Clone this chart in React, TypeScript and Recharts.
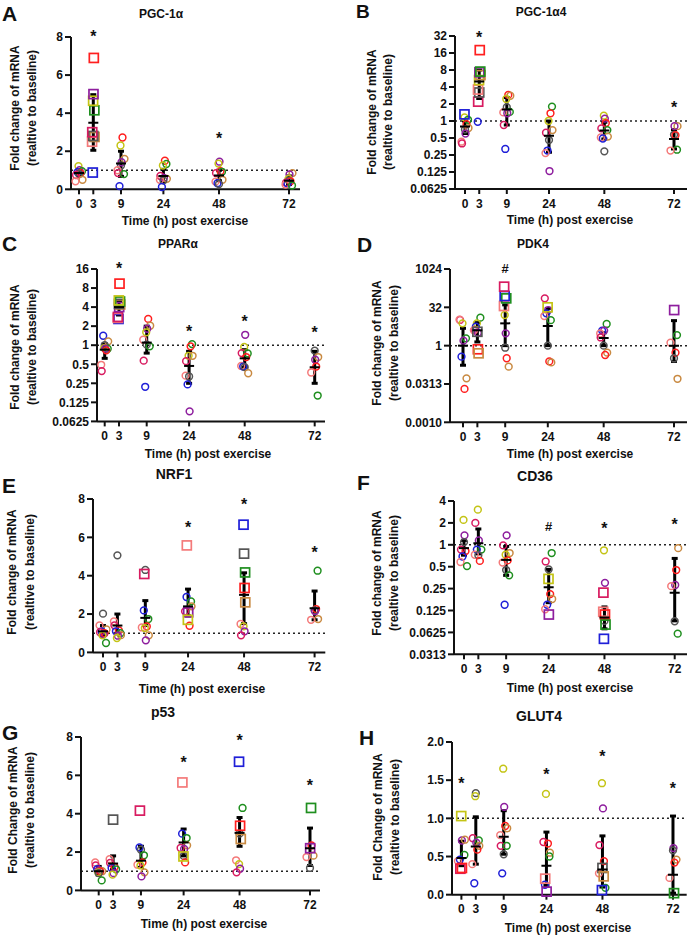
import React from 'react';
import { ScatterChart, Scatter, XAxis, YAxis, ErrorBar, ReferenceLine, ReferenceDot } from 'recharts';

type Pt = [number, string, number, string]; // time, subject, value, marker (o circle / s square)
type Stat = [number, number, number, number]; // time, mean, low, high
type Mark = [number, number, string]; // time, y, symbol

const timePoints = [0, 3, 9, 24, 48, 72];
const timeLabels = ['0', '3', '9', '24', '48', '72'];

const panelLetters = ['A', 'B', 'C', 'D', 'E', 'F', 'G', 'H'];
const panelTitles = ['PGC-1\u03b1', 'PGC-1\u03b14', 'PPAR\u03b1', 'PDK4', 'NRF1', 'CD36', 'p53', 'GLUT4'];
const yLabelLine1 = ['Fold change of mRNA', 'Fold change of mRNA', 'Fold change of mRNA', 'Fold change of mRNA', 'Fold change of mRNA', 'Fold change of mRNA', 'Fold Change of mRNA', 'Fold Change of mRNA'];
const yLabelLine2 = '(realtive to baseline)';
const xLabel = 'Time (h) post exercise';

const linTicks8 = [0, 2, 4, 6, 8];
const linTicks8Labels = ['0', '2', '4', '6', '8'];
const logTicksB = [0.0625, 0.125, 0.25, 0.5, 1, 2, 4, 8, 16, 32];
const logTicksBLabels = ['0.0625', '0.125', '0.25', '0.5', '1', '2', '4', '8', '16', '32'];
const logTicksC = [0.0625, 0.125, 0.25, 0.5, 1, 2, 4, 8, 16];
const logTicksCLabels = ['0.0625', '0.125', '0.25', '0.5', '1', '2', '4', '8', '16'];
const logTicksD = [0.0009765625, 0.03125, 1, 32, 1024];
const logTicksDLabels = ['0.0010', '0.0313', '1', '32', '1024'];
const logTicksF = [0.03125, 0.0625, 0.125, 0.25, 0.5, 1, 2, 4];
const logTicksFLabels = ['0.0313', '0.0625', '0.125', '0.25', '0.5', '1', '2', '4'];
const linTicksH = [0, 0.5, 1, 1.5, 2];
const linTicksHLabels = ['0.0', '0.5', '1.0', '1.5', '2.0'];

const pgc1aPoints: Pt[] = [
  [0,'Y',1.22,'o'],[0,'P',1.0,'o'],[0,'G',0.95,'o'],[0,'B',0.9,'o'],[0,'R',0.85,'o'],[0,'K',0.8,'o'],[0,'M',0.75,'o'],[0,'T',0.5,'o'],[0,'S',0.42,'o'],
  [3,'B',0.88,'s'],[3,'S',2.5,'s'],[3,'T',2.75,'s'],[3,'K',2.8,'s'],[3,'M',3.0,'s'],[3,'G',4.15,'s'],[3,'Y',4.65,'s'],[3,'P',5.0,'s'],[3,'R',6.9,'s'],
  [9,'R',2.72,'o'],[9,'Y',2.3,'o'],[9,'T',1.6,'o'],[9,'P',1.42,'o'],[9,'K',1.25,'o'],[9,'S',1.0,'o'],[9,'M',0.85,'o'],[9,'G',0.8,'o'],[9,'B',0.17,'o'],
  [24,'R',1.5,'o'],[24,'G',1.33,'o'],[24,'Y',1.25,'o'],[24,'M',0.7,'o'],[24,'P',0.6,'o'],[24,'T',0.55,'o'],[24,'S',0.5,'o'],[24,'K',0.47,'o'],[24,'B',0.12,'o'],
  [48,'P',1.45,'o'],[48,'Y',1.35,'o'],[48,'R',0.95,'o'],[48,'G',0.92,'o'],[48,'M',0.85,'o'],[48,'T',0.5,'o'],[48,'S',0.4,'o'],[48,'B',0.32,'o'],[48,'K',0.28,'o'],
  [72,'T',0.85,'o'],[72,'P',0.78,'o'],[72,'Y',0.55,'o'],[72,'K',0.45,'o'],[72,'R',0.42,'o'],[72,'M',0.35,'o'],[72,'B',0.3,'o'],[72,'S',0.25,'o'],[72,'G',0.2,'o'],
];
const pgc1aStats: Stat[] = [[0,0.85,0.72,1.0],[3,3.5,2.05,4.97],[9,1.35,0.68,2.0],[24,0.7,0.4,1.05],[48,0.73,0.45,1.0],[72,0.45,0.25,0.7]];
const pgc1aMarks: Mark[] = [[3,8.2,'*'],[48,2.85,'*']];

const pgc1a4Points: Pt[] = [
  [0,'Y',1.16,'o'],[0,'G',1.05,'o'],[0,'R',0.88,'o'],[0,'T',0.75,'o'],[0,'K',0.71,'o'],[0,'P',0.6,'o'],[0,'S',0.43,'o'],[0,'M',0.4,'o'],[0,'B',1.31,'s'],
  [3,'B',0.97,'o'],[3,'M',2.2,'s'],[3,'K',3.2,'s'],[3,'S',3.6,'s'],[3,'Y',5.3,'s'],[3,'T',6.5,'s'],[3,'P',7.3,'s'],[3,'G',7.5,'s'],[3,'R',18,'s'],
  [9,'R',2.9,'o'],[9,'T',2.8,'o'],[9,'Y',2.45,'o'],[9,'K',1.75,'o'],[9,'G',1.45,'o'],[9,'S',1.42,'o'],[9,'P',1.37,'o'],[9,'M',0.85,'o'],[9,'B',0.32,'o'],
  [24,'G',1.8,'o'],[24,'R',1.37,'o'],[24,'Y',1.0,'o'],[24,'T',0.69,'o'],[24,'M',0.62,'o'],[24,'K',0.46,'o'],[24,'B',0.3,'o'],[24,'S',0.27,'o'],[24,'P',0.13,'o'],
  [48,'Y',1.24,'o'],[48,'P',1.1,'o'],[48,'R',0.92,'o'],[48,'M',0.74,'o'],[48,'G',0.69,'o'],[48,'T',0.53,'o'],[48,'S',0.51,'o'],[48,'B',0.49,'o'],[48,'K',0.29,'o'],
  [72,'T',0.81,'o'],[72,'P',0.81,'o'],[72,'K',0.57,'o'],[72,'R',0.56,'o'],[72,'G',0.31,'o'],[72,'S',0.3,'o'],
];
const pgc1a4Stats: Stat[] = [[0,0.8,0.6,1.0],[3,5.0,2.5,8.0],[9,1.6,0.85,2.6],[24,0.55,0.28,1.0],[48,0.68,0.48,0.95],[72,0.48,0.32,0.7]];
const pgc1a4Marks: Mark[] = [[3,35,'*'],[72,2.0,'*']];

const pparaPoints: Pt[] = [
  [0,'B',1.41,'o'],[0,'T',1.15,'o'],[0,'K',1.0,'o'],[0,'Y',0.9,'o'],[0,'G',0.88,'o'],[0,'P',0.88,'o'],[0,'R',0.83,'o'],[0,'S',0.49,'o'],[0,'M',0.39,'o'],
  [3,'B',2.6,'s'],[3,'S',2.7,'s'],[3,'M',2.8,'s'],[3,'P',4.0,'s'],[3,'T',4.4,'s'],[3,'K',4.5,'s'],[3,'G',4.9,'s'],[3,'Y',5.1,'s'],[3,'R',9.4,'s'],
  [9,'R',2.6,'o'],[9,'T',2.03,'o'],[9,'P',1.82,'o'],[9,'Y',1.6,'o'],[9,'S',1.22,'o'],[9,'K',1.02,'o'],[9,'G',0.96,'o'],[9,'M',0.57,'o'],[9,'B',0.22,'o'],
  [24,'G',1.04,'o'],[24,'R',0.96,'o'],[24,'Y',0.68,'o'],[24,'T',0.68,'o'],[24,'M',0.56,'o'],[24,'S',0.33,'o'],[24,'K',0.32,'o'],[24,'B',0.24,'o'],[24,'P',0.09,'o'],
  [48,'P',1.46,'o'],[48,'Y',0.94,'o'],[48,'M',0.75,'o'],[48,'G',0.74,'o'],[48,'R',0.65,'o'],[48,'S',0.47,'o'],[48,'B',0.46,'o'],[48,'K',0.45,'o'],[48,'T',0.36,'o'],
  [72,'K',0.82,'o'],[72,'T',0.65,'o'],[72,'P',0.59,'o'],[72,'R',0.46,'o'],[72,'S',0.37,'o'],[72,'G',0.16,'o'],
];
const pparaStats: Stat[] = [[0,0.85,0.62,1.05],[3,4.0,3.0,5.0],[9,1.1,0.75,2.0],[24,0.47,0.25,0.8],[48,0.62,0.45,0.85],[72,0.45,0.25,0.8]];
const pparaMarks: Mark[] = [[3,18.5,'*'],[24,1.87,'*'],[48,2.7,'*'],[72,1.8,'*']];

const pdk4Points: Pt[] = [
  [0,'M',10.2,'o'],[0,'S',10.5,'o'],[0,'Y',7.5,'o'],[0,'G',1.94,'o'],[0,'P',1.57,'o'],[0,'B',0.37,'o'],[0,'T',0.052,'o'],[0,'R',0.02,'o'],
  [3,'G',12.6,'o'],[3,'Y',7.5,'o'],[3,'B',5.6,'o'],[3,'M',4.1,'o'],[3,'S',4.0,'o'],[3,'P',3.2,'o'],[3,'K',3.5,'s'],[3,'R',0.72,'s'],[3,'T',0.5,'s'],
  [9,'Y',16,'o'],[9,'P',3.05,'o'],[9,'K',0.83,'o'],[9,'R',0.32,'o'],[9,'T',0.15,'o'],[9,'S',36,'s'],[9,'G',72,'s'],[9,'B',89,'s'],[9,'M',207,'s'],
  [24,'M',72,'o'],[24,'P',25,'o'],[24,'B',18.6,'o'],[24,'S',14.6,'o'],[24,'G',10,'o'],[24,'K',1.0,'o'],[24,'R',0.24,'o'],[24,'T',0.22,'o'],[24,'Y',32,'s'],
  [48,'G',7.1,'o'],[48,'B',3.9,'o'],[48,'P',3.9,'o'],[48,'S',3.0,'o'],[48,'M',2.1,'o'],[48,'K',1.0,'o'],[48,'T',0.53,'o'],[48,'R',0.43,'o'],
  [72,'G',2.6,'o'],[72,'S',1.3,'o'],[72,'R',0.53,'o'],[72,'K',0.32,'o'],[72,'T',0.05,'o'],[72,'P',25,'s'],
];
const pdk4Stats: Stat[] = [[0,1.0,0.17,4.8],[3,4.0,1.4,8.0],[9,7.5,1.0,40],[24,5.9,1.0,29],[48,2.0,1.0,3.2],[72,1.0,0.24,9.6]];
const pdk4Marks: Mark[] = [[9,1024,'#']];

const nrf1Points: Pt[] = [
  [0,'K',2.02,'o'],[0,'S',1.41,'o'],[0,'T',1.2,'o'],[0,'B',1.1,'o'],[0,'M',1.05,'o'],[0,'R',1.0,'o'],[0,'P',0.95,'o'],[0,'Y',0.89,'o'],[0,'G',0.49,'o'],
  [3,'K',5.06,'o'],[3,'S',1.62,'o'],[3,'M',1.41,'o'],[3,'R',1.15,'o'],[3,'B',1.1,'o'],[3,'G',1.0,'o'],[3,'T',0.9,'o'],[3,'P',0.87,'o'],[3,'Y',0.75,'o'],
  [9,'K',4.3,'o'],[9,'B',2.19,'o'],[9,'G',1.74,'o'],[9,'R',1.35,'o'],[9,'S',1.3,'o'],[9,'Y',1.27,'o'],[9,'T',0.89,'o'],[9,'P',0.63,'o'],[9,'M',4.09,'s'],
  [24,'B',2.89,'o'],[24,'G',2.66,'o'],[24,'T',2.4,'o'],[24,'M',2.14,'o'],[24,'R',1.39,'o'],[24,'S',5.58,'s'],[24,'P',2.09,'s'],[24,'Y',1.7,'s'],
  [48,'S',1.48,'o'],[48,'Y',1.36,'o'],[48,'P',1.1,'o'],[48,'M',0.89,'o'],[48,'B',6.66,'s'],[48,'K',5.15,'s'],[48,'G',4.17,'s'],[48,'R',3.36,'s'],[48,'T',2.61,'s'],
  [72,'G',4.26,'o'],[72,'R',2.26,'o'],[72,'K',2.19,'o'],[72,'P',2.14,'o'],[72,'T',1.74,'o'],[72,'S',1.7,'o'],
];
const nrf1Stats: Stat[] = [[0,1.1,0.85,1.4],[3,1.4,1.0,2.0],[9,1.8,1.4,2.7],[24,2.4,1.9,3.3],[48,3.0,1.5,4.15],[72,2.3,1.7,3.2]];
const nrf1Marks: Mark[] = [[24,6.7,'*'],[48,7.88,'*'],[72,5.4,'*']];

const cd36Points: Pt[] = [
  [0,'Y',2.2,'o'],[0,'P',1.35,'o'],[0,'K',1.09,'o'],[0,'M',0.86,'o'],[0,'R',0.82,'o'],[0,'B',0.69,'o'],[0,'S',0.58,'o'],[0,'G',0.51,'o'],
  [3,'Y',3.04,'o'],[3,'M',2.0,'o'],[3,'P',1.15,'o'],[3,'G',0.86,'o'],[3,'B',0.86,'o'],[3,'S',0.73,'o'],[3,'K',0.72,'o'],[3,'R',0.6,'o'],
  [9,'P',1.35,'o'],[9,'M',0.98,'o'],[9,'T',0.77,'o'],[9,'Y',0.73,'o'],[9,'R',0.61,'o'],[9,'S',0.57,'o'],[9,'K',0.45,'o'],[9,'G',0.38,'o'],[9,'B',0.15,'o'],
  [24,'G',0.77,'o'],[24,'M',0.59,'o'],[24,'K',0.46,'o'],[24,'R',0.21,'o'],[24,'T',0.18,'o'],[24,'B',0.15,'o'],[24,'S',0.13,'o'],[24,'Y',0.34,'s'],[24,'P',0.11,'s'],
  [48,'Y',0.84,'o'],[48,'P',0.3,'o'],[48,'K',0.09,'o'],[48,'M',0.22,'s'],[48,'S',0.12,'s'],[48,'R',0.11,'s'],[48,'G',0.08,'s'],[48,'B',0.051,'s'],
  [72,'T',0.9,'o'],[72,'R',0.45,'o'],[72,'P',0.28,'o'],[72,'S',0.27,'o'],[72,'K',0.089,'o'],[72,'G',0.06,'o'],
];
const cd36Stats: Stat[] = [[0,0.9,0.72,1.15],[3,1.05,0.75,1.65],[9,0.62,0.38,0.95],[24,0.26,0.16,0.46],[48,0.1,0.07,0.14],[72,0.22,0.09,0.65]];
const cd36Marks: Mark[] = [[24,1.76,'#'],[48,1.9,'*'],[72,2.1,'*']];

const p53Points: Pt[] = [
  [0,'S',1.46,'o'],[0,'M',1.3,'o'],[0,'B',1.11,'o'],[0,'P',1.05,'o'],[0,'T',1.0,'o'],[0,'R',0.99,'o'],[0,'Y',0.94,'o'],[0,'K',0.9,'o'],[0,'G',0.52,'o'],
  [3,'S',1.63,'o'],[3,'M',1.43,'o'],[3,'R',1.22,'o'],[3,'B',1.17,'o'],[3,'G',1.1,'o'],[3,'P',0.9,'o'],[3,'Y',0.82,'o'],[3,'K',3.69,'s'],
  [9,'B',2.24,'o'],[9,'K',2.12,'o'],[9,'G',1.83,'o'],[9,'R',1.46,'o'],[9,'S',1.34,'o'],[9,'Y',1.3,'o'],[9,'T',0.94,'o'],[9,'P',0.73,'o'],[9,'M',4.16,'s'],
  [24,'B',2.96,'o'],[24,'G',2.73,'o'],[24,'T',2.35,'o'],[24,'M',2.21,'o'],[24,'P',2.16,'o'],[24,'K',1.8,'o'],[24,'R',1.46,'o'],[24,'S',5.63,'s'],[24,'Y',1.77,'s'],
  [48,'G',4.3,'o'],[48,'K',2.96,'o'],[48,'S',1.57,'o'],[48,'Y',1.37,'o'],[48,'P',1.13,'o'],[48,'M',0.94,'o'],[48,'B',6.71,'s'],[48,'R',3.37,'s'],[48,'T',2.68,'s'],
  [72,'R',2.35,'o'],[72,'T',1.81,'o'],[72,'S',1.74,'o'],[72,'K',1.17,'o'],[72,'G',4.3,'s'],[72,'P',2.2,'s'],
];
const p53Stats: Stat[] = [[0,1.0,0.8,1.25],[3,1.4,1.1,1.8],[9,1.55,1.2,2.3],[24,2.5,1.8,3.2],[48,3.0,2.3,3.8],[72,2.2,1.3,3.25]];
const p53Marks: Mark[] = [[24,6.85,'*'],[48,8.0,'*'],[72,5.63,'*']];

const glut4Points: Pt[] = [
  [0,'P',0.71,'o'],[0,'T',0.72,'o'],[0,'G',0.52,'o'],[0,'B',0.46,'o'],[0,'S',0.44,'o'],[0,'Y',1.03,'s'],[0,'M',0.34,'s'],[0,'R',0.35,'s'],
  [3,'K',1.33,'o'],[3,'Y',1.29,'o'],[3,'M',0.74,'o'],[3,'G',0.71,'o'],[3,'P',0.68,'o'],[3,'T',0.64,'o'],[3,'R',0.59,'o'],[3,'S',0.4,'o'],[3,'B',0.15,'o'],
  [9,'Y',1.65,'o'],[9,'P',1.15,'o'],[9,'R',0.9,'o'],[9,'T',0.87,'o'],[9,'S',0.78,'o'],[9,'M',0.64,'o'],[9,'G',0.64,'o'],[9,'K',0.53,'o'],[9,'B',0.28,'o'],
  [24,'Y',1.32,'o'],[24,'M',0.69,'o'],[24,'R',0.67,'o'],[24,'T',0.55,'o'],[24,'G',0.5,'o'],[24,'B',0.13,'o'],[24,'S',0.21,'s'],[24,'P',0.04,'s'],
  [48,'Y',1.46,'o'],[48,'P',1.13,'o'],[48,'M',0.65,'o'],[48,'R',0.44,'o'],[48,'S',0.28,'o'],[48,'G',0.09,'o'],[48,'K',0.35,'s'],[48,'T',0.24,'s'],[48,'B',0.06,'s'],
  [72,'P',0.61,'o'],[72,'K',0.58,'o'],[72,'T',0.46,'o'],[72,'R',0.42,'o'],[72,'S',0.22,'o'],[72,'G',0.02,'s'],
];
const glut4Stats: Stat[] = [[0,0.48,0.38,0.7],[3,0.63,0.4,1.02],[9,0.76,0.53,1.1],[24,0.38,0.12,0.82],[48,0.33,0.1,0.77],[72,0.26,0.02,1.03]];
const glut4Marks: Mark[] = [[0,1.5,'*'],[24,1.62,'*'],[48,1.86,'*'],[72,1.44,'*']];

// ---------- styling / layout (not data) ----------
const subjectColors: Record<string, string> = {
  R: '#ff1f1f', B: '#1f1fd8', G: '#1f8f1f', Y: '#c4c416', P: '#8e1e9e',
  M: '#d81b60', S: '#f47a7a', T: '#c98a42', K: '#555555',
};
const subjectJitter: Record<string, number> = { R: 1.5, B: -1.5, G: 3, Y: -0.5, P: 0.5, M: -3, S: -3.5, T: 3.5, K: 0 };
const slotPos = [0, 14.3, 42, 84.4, 140, 210];
const FONT = "'Liberation Sans', Arial, Helvetica, sans-serif";

type Layout = {
  left: number; top: number; right: number; bottom: number; x0: number; x72: number;
  lx: number; ly: number; tx: number; ty: number; ts: number;
  y1: number; y2: number; yc: number; xlx: number; xly: number;
};

const layouts: Layout[] = [
  { left: 71, top: 36.7, right: 300, bottom: 189, x0: 79, x72: 289, lx: 2, ly: 21, tx: 161, ty: 18, ts: 12, y1: 15, y2: 32, yc: 108, xlx: 185, xly: 225 },
  { left: 455, top: 36, right: 687, bottom: 189, x0: 465, x72: 674, lx: 356, ly: 18, tx: 541, ty: 16, ts: 12, y1: 372, y2: 388, yc: 112, xlx: 570, xly: 224 },
  { left: 97, top: 269.3, right: 325, bottom: 421.7, x0: 104.7, x72: 314.7, lx: 2, ly: 251, tx: 178, ty: 248, ts: 12, y1: 15, y2: 32, yc: 347, xlx: 208, xly: 458 },
  { left: 450, top: 269, right: 687, bottom: 422.3, x0: 463, x72: 674, lx: 357, ly: 252, tx: 533, ty: 248, ts: 12, y1: 377, y2: 394, yc: 343, xlx: 570, xly: 458 },
  { left: 92.7, top: 499.3, right: 325, bottom: 652.7, x0: 102.7, x72: 314.3, lx: 2, ly: 493, tx: 174, ty: 479, ts: 14, y1: 12, y2: 30, yc: 572, xlx: 202, xly: 693 },
  { left: 454, top: 500.7, right: 687, bottom: 654, x0: 464, x72: 674.7, lx: 357, ly: 490, tx: 535, ty: 481, ts: 14, y1: 377, y2: 394, yc: 573, xlx: 570, xly: 692 },
  { left: 81, top: 737.3, right: 320, bottom: 890.7, x0: 98.7, x72: 310, lx: 2, ly: 740, tx: 163, ty: 717, ts: 14, y1: 13, y2: 30, yc: 810, xlx: 204, xly: 928 },
  { left: 452.3, top: 742.3, right: 687, bottom: 895, x0: 461.7, x72: 673.3, lx: 359, ly: 745, tx: 539, ty: 721, ts: 14, y1: 378, y2: 395, yc: 817, xlx: 568, xly: 932 },
];

type PanelData = { points: Pt[]; stats: Stat[]; marks: Mark[]; log: boolean; ticks: number[]; tickLabels: string[] };
const panels: PanelData[] = [
  { points: pgc1aPoints, stats: pgc1aStats, marks: pgc1aMarks, log: false, ticks: linTicks8, tickLabels: linTicks8Labels },
  { points: pgc1a4Points, stats: pgc1a4Stats, marks: pgc1a4Marks, log: true, ticks: logTicksB, tickLabels: logTicksBLabels },
  { points: pparaPoints, stats: pparaStats, marks: pparaMarks, log: true, ticks: logTicksC, tickLabels: logTicksCLabels },
  { points: pdk4Points, stats: pdk4Stats, marks: pdk4Marks, log: true, ticks: logTicksD, tickLabels: logTicksDLabels },
  { points: nrf1Points, stats: nrf1Stats, marks: nrf1Marks, log: false, ticks: linTicks8, tickLabels: linTicks8Labels },
  { points: cd36Points, stats: cd36Stats, marks: cd36Marks, log: true, ticks: logTicksF, tickLabels: logTicksFLabels },
  { points: p53Points, stats: p53Stats, marks: p53Marks, log: false, ticks: linTicks8, tickLabels: linTicks8Labels },
  { points: glut4Points, stats: glut4Stats, marks: glut4Marks, log: false, ticks: linTicksH, tickLabels: linTicksHLabels },
];

const PAD_L = 70;
const PAD_T = 30;
const PAD_B = 30;

const pointShape = (p: any) => {
  const { cx, cy, payload } = p;
  if (cx == null || cy == null) return <g />;
  const c = subjectColors[payload.subject];
  if (payload.marker === 's') {
    return <rect x={cx - 4.5} y={cy - 4.5} width={9} height={9} fill="none" stroke={c} strokeWidth={1.7} />;
  }
  return <circle cx={cx} cy={cy} r={3.4} fill="none" stroke={c} strokeWidth={1.5} />;
};

const meanShape = (p: any) => {
  const { cx, cy } = p;
  if (cx == null || cy == null) return <g />;
  return <line x1={cx - 5} x2={cx + 5} y1={cy} y2={cy} stroke="#000" strokeWidth={2} />;
};

function Panel({ idx }: { idx: number }) {
  const L = layouts[idx];
  const P = panels[idx];
  const k = 210 / (L.x72 - L.x0);
  const xDomain = [(L.left - L.x0) * k, (L.right - L.x0) * k];
  const plotW = L.right - L.left;
  const plotH = L.bottom - L.top;
  const width = plotW + PAD_L + 1;
  const height = plotH + PAD_T + PAD_B;

  const pts = P.points.map((d) => {
    const ti = timePoints.indexOf(d[0]);
    const j = subjectJitter[d[1]] * (d[3] === 's' ? 0.35 : 1);
    return { x: slotPos[ti] + j * k, y: d[2], subject: d[1], marker: d[3] };
  });
  const st = P.stats.map((s) => {
    const ti = timePoints.indexOf(s[0]);
    return { x: slotPos[ti], y: s[1], err: [s[1] - s[2], s[3] - s[1]] };
  });
  const yDomain = [P.ticks[0], P.ticks[P.ticks.length - 1]];
  const tickFmtY = (v: number) => {
    const i = P.ticks.findIndex((t) => Math.abs(t - v) / t < 1e-6 || t === v);
    return i >= 0 ? P.tickLabels[i] : String(v);
  };
  const tickFmtX = (v: number) => {
    const i = slotPos.findIndex((s) => Math.abs(s - v) < 1e-6);
    return i >= 0 ? timeLabels[i] : '';
  };
  const tickStyle = { fontSize: 12, fontWeight: 700, fill: '#111', fontFamily: FONT };
  const axisStyle = { stroke: '#111', strokeWidth: 2 };

  return (
    <div style={{ position: 'absolute', left: L.left - PAD_L, top: L.top - PAD_T, width, height }}>
      <ScatterChart width={width} height={height} margin={{ top: PAD_T, right: 1, left: 10, bottom: 0 }}>
        <XAxis
          type="number"
          dataKey="x"
          domain={xDomain}
          ticks={slotPos}
          interval={0}
          tickFormatter={tickFmtX}
          tick={tickStyle}
          axisLine={axisStyle}
          tickLine={axisStyle}
          tickSize={5}
          tickMargin={5}
          height={30}
          allowDataOverflow
        />
        <YAxis
          type="number"
          dataKey="y"
          scale={P.log ? 'log' : 'linear'}
          domain={yDomain}
          ticks={P.ticks}
          interval={0}
          tickFormatter={tickFmtY}
          tick={tickStyle}
          axisLine={axisStyle}
          tickLine={axisStyle}
          tickSize={6}
          tickMargin={2}
          width={60}
        />
        <ReferenceLine y={1} stroke="#222" strokeWidth={1.5} strokeDasharray="2 3" />
        <Scatter data={pts} shape={pointShape} isAnimationActive={false} />
        <Scatter data={st} shape={meanShape} isAnimationActive={false}>
          <ErrorBar dataKey="err" direction="y" width={3} stroke="#000" strokeWidth={3} />
        </Scatter>
        {P.marks.map((m, i) => {
          const ti = timePoints.indexOf(m[0]);
          return (
            <ReferenceDot
              key={i}
              x={slotPos[ti]}
              y={m[1]}
              ifOverflow="visible"
              shape={(p: any) => (
                <text
                  x={p.cx}
                  y={m[2] === '*' ? p.cy + 9 : p.cy + 4.5}
                  textAnchor="middle"
                  fontSize={m[2] === '*' ? 16 : 13}
                  fontWeight={700}
                  fontFamily={FONT}
                  fill="#111"
                >
                  {m[2]}
                </text>
              )}
            />
          );
        })}
      </ScatterChart>
    </div>
  );
}

export default function App() {
  return (
    <div style={{ position: 'absolute', left: 0, top: 0, width: 688, height: 938, background: '#fff', overflow: 'hidden', fontFamily: FONT }}>
      {panels.map((_, i) => (
        <Panel key={i} idx={i} />
      ))}
      <svg width={688} height={938} style={{ position: 'absolute', left: 0, top: 0, pointerEvents: 'none' }}>
        {layouts.map((L, i) => (
          <g key={i} fontFamily={FONT} fontWeight={700} fill="#111">
            <text x={L.lx} y={L.ly} fontSize={i === 1 ? 19 : 21}>{panelLetters[i]}</text>
            <text x={L.tx} y={L.ty} fontSize={L.ts} textAnchor="middle">{panelTitles[i]}</text>
            <text x={L.y1} y={L.yc} fontSize={12} textAnchor="middle" dominantBaseline="central" transform={`rotate(-90 ${L.y1} ${L.yc})`}>{yLabelLine1[i]}</text>
            <text x={L.y2} y={L.yc} fontSize={12} textAnchor="middle" dominantBaseline="central" transform={`rotate(-90 ${L.y2} ${L.yc})`}>{yLabelLine2}</text>
            <text x={L.xlx} y={L.xly} fontSize={12} textAnchor="middle">{xLabel}</text>
          </g>
        ))}
      </svg>
    </div>
  );
}
